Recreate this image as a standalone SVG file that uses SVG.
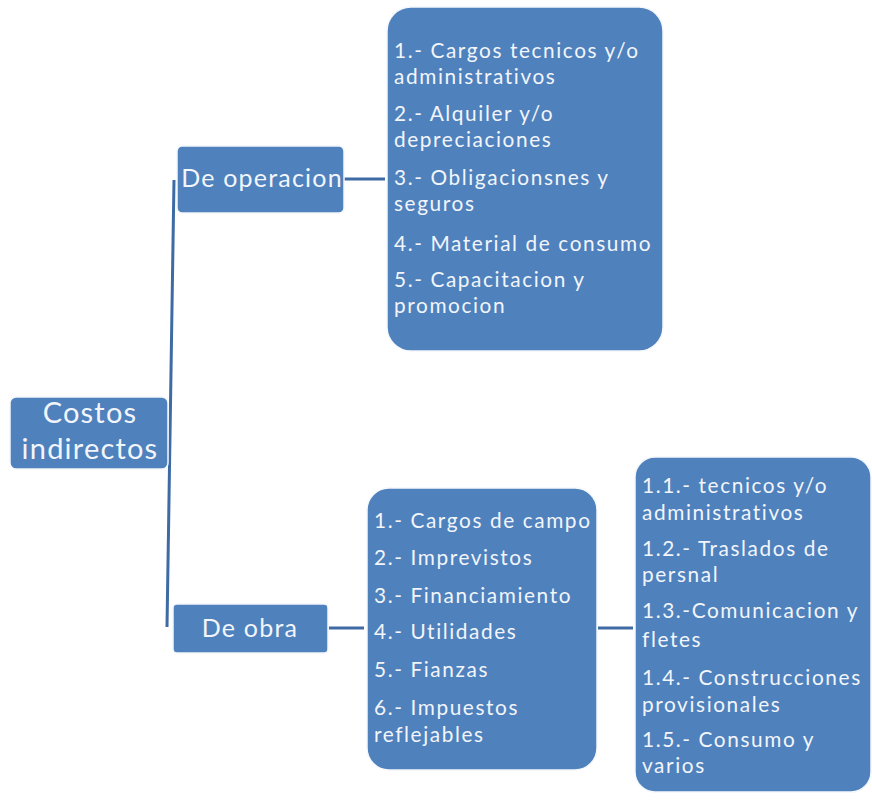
<svg xmlns="http://www.w3.org/2000/svg" width="872" height="802" viewBox="0 0 872 802">
  <style>
    .box { fill: #4F81BD; stroke: #F4F7FB; stroke-width: 1.5; }
    .wire { stroke: #3E6BA3; stroke-width: 3; fill: none; }
    text { font-family: Lato, "Open Sans", "Liberation Sans", sans-serif; fill: #F2F5FA; }
    .big { font-size: 29px; letter-spacing: 1.2px; }
    .mid { font-size: 25px; letter-spacing: 1.2px; }
    .item { font-size: 20.8px; letter-spacing: 1.6px; }
  </style>
  <rect width="872" height="802" fill="#FFFFFF"/>

  <!-- connectors -->
  <g id="connectors">
    <path class="wire" d="M174 180 L167 627"/>
    <path class="wire" d="M344 179 L385 179"/>
    <path class="wire" d="M329 628 L364 628"/>
    <path class="wire" d="M598 628 L633 628"/>
  </g>

  <g id="root">
    <rect class="box" x="10" y="397" width="158" height="72" rx="6"/>
    <text class="big" x="90" y="423" text-anchor="middle">Costos</text>
    <text class="big" x="90" y="459" text-anchor="middle">indirectos</text>
  </g>

  <g id="operacion">
    <rect class="box" x="177" y="146" width="167" height="67" rx="5"/>
    <text class="mid" x="262" y="187" text-anchor="middle">De operacion</text>
  </g>

  <g id="operacion-items">
    <rect class="box" x="387" y="7" width="276" height="344" rx="24"/>
    <text class="item" x="394" y="58">1.- Cargos tecnicos y/o</text>
    <text class="item" x="394" y="84">administrativos</text>
    <text class="item" x="394" y="121">2.- Alquiler y/o</text>
    <text class="item" x="394" y="147">depreciaciones</text>
    <text class="item" x="394" y="185">3.- Obligacionsnes y</text>
    <text class="item" x="394" y="211">seguros</text>
    <text class="item" x="394" y="251">4.- Material de consumo</text>
    <text class="item" x="394" y="287">5.- Capacitacion y</text>
    <text class="item" x="394" y="313">promocion</text>
  </g>

  <g id="obra">
    <rect class="box" x="173" y="604" width="155" height="49" rx="4"/>
    <text class="mid" x="250" y="637" text-anchor="middle">De obra</text>
  </g>

  <g id="obra-items">
    <rect class="box" x="367" y="488" width="230" height="282" rx="22"/>
    <text class="item" x="374" y="528">1.- Cargos de campo</text>
    <text class="item" x="374" y="565">2.- Imprevistos</text>
    <text class="item" x="374" y="603">3.- Financiamiento</text>
    <text class="item" x="374" y="639">4.- Utilidades</text>
    <text class="item" x="374" y="677">5.- Fianzas</text>
    <text class="item" x="374" y="715">6.- Impuestos</text>
    <text class="item" x="374" y="742">reflejables</text>
  </g>

  <g id="campo-items">
    <rect class="box" x="635" y="457" width="236" height="335" rx="20"/>
    <text class="item" x="642" y="493">1.1.- tecnicos y/o</text>
    <text class="item" x="642" y="520">administrativos</text>
    <text class="item" x="642" y="556">1.2.- Traslados de</text>
    <text class="item" x="642" y="582">persnal</text>
    <text class="item" x="642" y="618">1.3.-Comunicacion y</text>
    <text class="item" x="642" y="647">fletes</text>
    <text class="item" x="642" y="685">1.4.- Construcciones</text>
    <text class="item" x="642" y="712">provisionales</text>
    <text class="item" x="642" y="747">1.5.- Consumo y</text>
    <text class="item" x="642" y="773">varios</text>
  </g>
</svg>
